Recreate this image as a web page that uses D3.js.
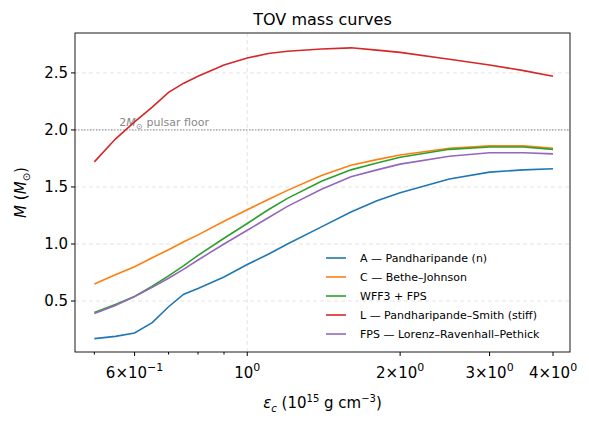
<!DOCTYPE html><html><head><meta charset="utf-8"><script src="https://cdn.jsdelivr.net/npm/d3@7"></script>
<style>body{margin:0;background:#fff}text{font-family:"DejaVu Sans",sans-serif}</style></head><body><svg id="c" width="589" height="425"></svg><script>
const xs=[0.5,0.55,0.6,0.65,0.7,0.75,0.8,0.9,1.0,1.1,1.2,1.4,1.6,1.8,2.0,2.5,3.0,3.5,4.0];
const sA=[0.17,0.19,0.22,0.31,0.45,0.56,0.61,0.71,0.82,0.91,1.0,1.15,1.28,1.38,1.45,1.57,1.63,1.65,1.66];
const sC=[0.65,0.73,0.80,0.88,0.95,1.02,1.08,1.20,1.30,1.39,1.47,1.60,1.69,1.74,1.78,1.84,1.86,1.86,1.84];
const sW=[0.40,0.47,0.54,0.63,0.72,0.81,0.90,1.05,1.18,1.30,1.40,1.55,1.65,1.71,1.76,1.83,1.85,1.85,1.83];
const sL=[1.72,1.92,2.07,2.20,2.33,2.41,2.47,2.57,2.63,2.67,2.69,2.71,2.72,2.70,2.68,2.62,2.57,2.52,2.47];
const sF=[0.39,0.46,0.54,0.62,0.70,0.78,0.86,1.00,1.12,1.23,1.33,1.48,1.59,1.65,1.70,1.77,1.80,1.80,1.79];
const names=["A — Pandharipande (n)","C — Bethe–Johnson","WFF3 + FPS","L — Pandharipande–Smith (stiff)","FPS — Lorenz–Ravenhall–Pethick"];
const colors=["#1f77b4","#ff7f0e","#2ca02c","#d62728","#9467bd"];
const series=[sA,sC,sW,sL,sF];
const yTicks=[0.5,1.0,1.5,2.0,2.5];
const xMajor=[0.6,1,2,3,4];
const xMajorLab=[["6","−1"],["10","0"],["2","0"],["3","0"],["4","0"]];
const xMinor=[0.5,0.7,0.8,0.9];
const L=75,R=570,T=33,B=352;
const svg=d3.select("#c");
const x=d3.scaleLog().domain([0.458,4.32]).range([L,R]);
const y=d3.scaleLinear().domain([0.053,2.85]).range([B,T]);
const g=svg.append("g");
yTicks.forEach(v=>g.append("line").attr("x1",L).attr("x2",R).attr("y1",y(v)).attr("y2",y(v)).attr("stroke","#ddd").attr("stroke-dasharray","4,3").attr("stroke-width",0.8));
g.append("line").attr("x1",x(1)).attr("x2",x(1)).attr("y1",T).attr("y2",B).attr("stroke","#ddd").attr("stroke-dasharray","4,3").attr("stroke-width",0.8);
g.append("line").attr("x1",L).attr("x2",R).attr("y1",y(2)).attr("y2",y(2)).attr("stroke","#888").attr("stroke-dasharray","1.5,1.5").attr("stroke-width",1);
const pl=g.append("text").attr("x",x(0.56)).attr("y",y(2)-4).attr("font-size",11).attr("fill","#888");
pl.append("tspan").text("2");
pl.append("tspan").attr("font-style","italic").text("M");
pl.append("tspan").attr("font-size",8).attr("dy",3).text("⊙");
pl.append("tspan").attr("dy",-3).attr("dx",4).text("pulsar floor");
const line=d3.line().x((d,i)=>x(xs[i])).y(d=>y(d));
series.forEach((s,k)=>g.append("path").attr("d",line(s)).attr("fill","none").attr("stroke",colors[k]).attr("stroke-width",1.6));
g.append("rect").attr("x",L).attr("y",T).attr("width",R-L).attr("height",B-T).attr("fill","none").attr("stroke","#000").attr("stroke-width",0.9);
yTicks.forEach(v=>{g.append("line").attr("x1",L-4).attr("x2",L).attr("y1",y(v)).attr("y2",y(v)).attr("stroke","#000");
g.append("text").attr("x",L-7).attr("y",y(v)+5).attr("text-anchor","end").attr("font-size",15).text(v.toFixed(1));});
xMajor.forEach((v,i)=>{g.append("line").attr("x1",x(v)).attr("x2",x(v)).attr("y1",B).attr("y2",B+4).attr("stroke","#000");
const lab=xMajorLab[i];const t=g.append("text").attr("x",x(v)).attr("y",B+26).attr("text-anchor","middle").attr("font-size",15);
if(lab[0]==="10")t.html('10<tspan font-size="11" dy="-7">0</tspan>');else t.html(lab[0]+'×10<tspan font-size="11" dy="-7">'+lab[1]+'</tspan>');});
xMinor.forEach(v=>g.append("line").attr("x1",x(v)).attr("x2",x(v)).attr("y1",B).attr("y2",B+2.5).attr("stroke","#000"));
svg.append("text").attr("x",(L+R)/2).attr("y",25).attr("text-anchor","middle").attr("font-size",16).text("TOV mass curves");
svg.append("text").attr("x",(L+R)/2).attr("y",408).attr("text-anchor","middle").attr("font-size",15).html('<tspan font-style="italic">ε</tspan><tspan font-size="10" dy="4" font-style="italic">c</tspan><tspan dy="-4"> (10</tspan><tspan font-size="10" dy="-6">15</tspan><tspan dy="6"> g cm</tspan><tspan font-size="10" dy="-6">−3</tspan><tspan dy="6">)</tspan>');
svg.append("text").attr("transform","translate(26,"+((T+B)/2)+") rotate(-90)").attr("text-anchor","middle").attr("font-size",15).html('<tspan font-style="italic">M</tspan> (<tspan font-style="italic">M</tspan><tspan font-size="10" dy="4">⊙</tspan><tspan dy="-4">)</tspan>');
const lg=svg.append("g").attr("transform","translate(322,250)");
names.forEach((n,i)=>{lg.append("line").attr("x1",4).attr("x2",24).attr("y1",8+i*19).attr("y2",8+i*19).attr("stroke",colors[i]).attr("stroke-width",1.6);
lg.append("text").attr("x",38).attr("y",12+i*19).attr("font-size",11).text(n);});
</script></body></html>
